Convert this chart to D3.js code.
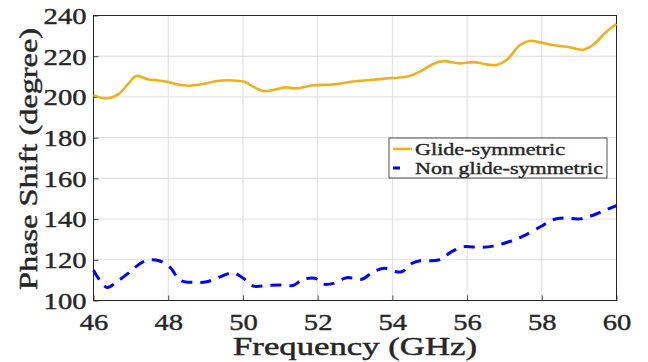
<!DOCTYPE html>
<html>
<head>
<meta charset="utf-8">
<script src="https://cdn.jsdelivr.net/npm/d3@7"></script>
<style>
  html, body { margin: 0; padding: 0; background: #fff; }
  svg text { font-family: "Liberation Serif", "Times New Roman", serif; fill: #262626; }
</style>
</head>
<body>
<svg id="chart" width="648" height="362"></svg>
<script>
// Frequency sweep (GHz) and measured phase shift (degree)
const glideFreq = [46.0, 46.36, 46.67, 46.94, 47.14, 47.47, 47.74, 48.0, 48.23, 48.54, 48.9, 49.3, 49.74, 50.06, 50.28, 50.55, 50.81, 51.13, 51.44, 51.88, 52.3, 52.5, 52.95, 53.49, 53.98, 54.38, 54.74, 55.09, 55.36, 55.8, 56.16, 56.52, 56.79, 57.06, 57.42, 57.69, 57.96, 58.3, 58.75, 59.1, 59.37, 59.73, 60.0];
const glidePhase = [200.9, 199.3, 201.4, 206.7, 210.3, 208.6, 208.1, 207.3, 206.2, 205.5, 206.2, 207.8, 208.1, 207.3, 205.0, 202.9, 203.4, 204.7, 204.2, 205.7, 206.0, 206.3, 207.6, 208.4, 209.3, 209.9, 212.4, 216.2, 217.6, 216.5, 217.1, 216.0, 215.7, 218.1, 225.5, 227.6, 226.8, 225.5, 224.4, 223.2, 225.5, 232.0, 235.8];

const nonGlideFreq = [46.0, 46.36, 46.62, 46.98, 47.25, 47.47, 47.78, 48.05, 48.32, 48.67, 49.03, 49.39, 49.74, 50.01, 50.28, 50.63, 50.99, 51.34, 51.61, 51.93, 52.15, 52.42, 52.78, 53.18, 53.49, 53.8, 54.03, 54.25, 54.52, 54.74, 55.23, 55.59, 55.9, 56.34, 56.7, 57.19, 57.5, 57.96, 58.32, 58.59, 59.03, 59.39, 59.75, 60.0];
const nonGlidePhase = [114.9, 106.4, 109.2, 114.1, 118.2, 119.9, 119.4, 116.3, 110.0, 108.9, 109.2, 111.6, 113.6, 110.9, 107.1, 107.4, 107.6, 107.4, 110.4, 110.9, 108.1, 108.4, 111.2, 110.4, 114.1, 115.8, 114.4, 114.1, 118.2, 119.5, 119.9, 124.0, 126.4, 126.1, 126.7, 129.3, 131.6, 136.2, 139.8, 140.5, 140.1, 142.0, 144.8, 146.6];

const xTicks = [46, 48, 50, 52, 54, 56, 58, 60];
const yTicks = [100, 120, 140, 160, 180, 200, 220, 240];
const seriesNames = ["Glide-symmetric", "Non glide-symmetric"];

const svg = d3.select("#chart");
const plot = { left: 93.5, right: 616.5, top: 15.5, bottom: 300.5 };

const x = d3.scaleLinear().domain([46, 60]).range([plot.left, plot.right]);
const y = d3.scaleLinear().domain([100, 240]).range([plot.bottom, plot.top]);

// grid
const grid = svg.append("g");
grid.selectAll("line.vx").data(xTicks).join("line")
  .attr("x1", d => x(d)).attr("x2", d => x(d))
  .attr("y1", plot.top).attr("y2", plot.bottom)
  .attr("stroke", "#dcdcdc").attr("stroke-width", 1);
grid.selectAll("line.hy").data(yTicks).join("line")
  .attr("x1", plot.left).attr("x2", plot.right)
  .attr("y1", d => y(d)).attr("y2", d => y(d))
  .attr("stroke", "#dcdcdc").attr("stroke-width", 1);

// axes (ticks pointing inward)
const xAxis = svg.append("g").attr("transform", `translate(0,${plot.bottom})`)
  .call(d3.axisBottom(x).tickValues(xTicks).tickSizeInner(-5).tickSizeOuter(0).tickPadding(13));
const yAxis = svg.append("g").attr("transform", `translate(${plot.left},0)`)
  .call(d3.axisLeft(y).tickValues(yTicks).tickSizeInner(-5).tickSizeOuter(0).tickPadding(7));
[xAxis, yAxis].forEach(g => {
  g.select(".domain").remove();
  g.selectAll(".tick line").attr("stroke", "#262626").attr("stroke-width", 0.8);
  g.selectAll(".tick text").attr("font-family", "Liberation Serif").attr("font-size", 23)
    .attr("fill", "#262626").attr("stroke", "#262626").attr("stroke-width", 0.4)
    .attr("textLength", d => String(d).length * 14.3).attr("lengthAdjust", "spacingAndGlyphs");
});
xAxis.selectAll(".tick text").attr("dy", "0.71em");
yAxis.selectAll(".tick text").attr("dy", "0.34em");

// box
svg.append("rect")
  .attr("x", plot.left).attr("y", plot.top)
  .attr("width", plot.right - plot.left).attr("height", plot.bottom - plot.top)
  .attr("fill", "none").attr("stroke", "#262626").attr("stroke-width", 1);

// curves
const line = d3.line().curve(d3.curveCatmullRom.alpha(0.5));
const glidePts = glideFreq.map((f, i) => [x(f), y(glidePhase[i])]);
const nonGlidePts = nonGlideFreq.map((f, i) => [x(f), y(nonGlidePhase[i])]);

svg.append("path").attr("d", line(glidePts))
  .attr("fill", "none").attr("stroke", "#EDB120").attr("stroke-width", 2.6);
svg.append("path").attr("d", line(nonGlidePts))
  .attr("fill", "none").attr("stroke", "#0000FF").attr("stroke-width", 3)
  .attr("stroke-dasharray", "11,8");

// axis labels
svg.append("text")
  .attr("x", 355).attr("y", 355)
  .attr("text-anchor", "middle").attr("font-size", 25)
  .attr("stroke", "#262626").attr("stroke-width", 0.45)
  .attr("textLength", 244).attr("lengthAdjust", "spacingAndGlyphs")
  .text("Frequency (GHz)");
svg.append("text")
  .attr("transform", "translate(37,159) rotate(-90)")
  .attr("text-anchor", "middle").attr("font-size", 25)
  .attr("stroke", "#262626").attr("stroke-width", 0.45)
  .attr("textLength", 262).attr("lengthAdjust", "spacingAndGlyphs")
  .text("Phase Shift (degree)");

// legend
const lg = svg.append("g");
lg.append("rect").attr("x", 389).attr("y", 138).attr("width", 218).attr("height", 40)
  .attr("fill", "#fff").attr("stroke", "#262626").attr("stroke-width", 0.8);
const legendItems = [
  { name: seriesNames[0], color: "#EDB120", dash: null, len: 150 },
  { name: seriesNames[1], color: "#0000FF", dash: "7,20", len: 188 }
];
legendItems.forEach((d, i) => {
  const cy = 149 + i * 19;
  lg.append("line").attr("x1", 393).attr("x2", 412).attr("y1", cy).attr("y2", cy)
    .attr("stroke", d.color).attr("stroke-width", d.dash ? 3 : 2.6)
    .attr("stroke-dasharray", d.dash);
  lg.append("text").attr("x", 415).attr("y", cy + 5.5)
    .attr("font-size", 17).attr("stroke", "#262626").attr("stroke-width", 0.4)
    .attr("textLength", d.len).attr("lengthAdjust", "spacingAndGlyphs")
    .text(d.name);
});
</script>
</body>
</html>
